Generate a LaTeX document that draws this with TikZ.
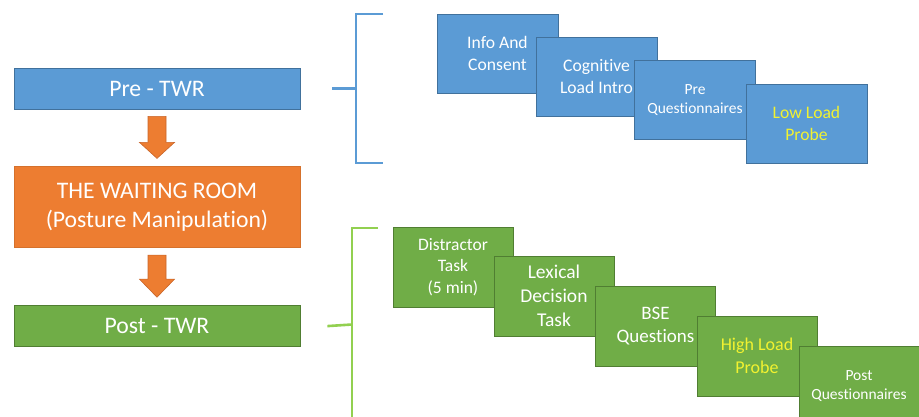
\documentclass[tikz,border=0pt]{standalone}
\usepackage{fontspec}
\setmainfont{Carlito}[Ligatures=NoCommon]
\usetikzlibrary{positioning}
\definecolor{preblue}{HTML}{5B9BD5}
\definecolor{preedge}{HTML}{41719C}
\definecolor{waitorange}{HTML}{ED7D31}
\definecolor{waitedge}{HTML}{C8652A}
\definecolor{postgreen}{HTML}{70AD47}
\definecolor{postedge}{HTML}{507E32}
\definecolor{postline}{HTML}{92D050}
\definecolor{probe}{HTML}{F2F230}

\begin{document}
\begin{tikzpicture}[
  x=1pt, y=1pt,
  box/.style={rectangle, draw, line width=0.8pt, text=white, align=center, inner sep=2pt},
  stage/.style={box, minimum width=286pt, font=\fontsize{23.7}{29}\selectfont},
  prestep/.style={box, fill=preblue, draw=preedge, minimum width=121pt, minimum height=79pt, font=\fontsize{17.6}{22}\selectfont},
  poststep/.style={box, fill=postgreen, draw=postedge, minimum width=120pt, minimum height=80pt, font=\fontsize{19}{23}\selectfont},
  bracket/.style={line width=2.6pt},
  flow/.style={fill=waitorange, draw=waitedge, line width=0.6pt}
]
\useasboundingbox (0,0) rectangle (919,417);
\clip (0,0) rectangle (919,417);

% left column
\node[stage, fill=preblue, draw=preedge, minimum height=41pt] (pre) at (157,328.5) {Pre - TWR};
\node[stage, fill=waitorange, draw=waitorange!90!black, minimum height=81pt, below=57pt of pre] (wait) {THE WAITING ROOM\\(Posture Manipulation)};
\node[stage, fill=postgreen, draw=postedge, minimum height=41pt, below=57pt of wait] (post) {Post - TWR};

\path (pre.south) ++(0,-7) coordinate (flowa);
\path (wait.south) ++(0,-7) coordinate (flowb);
\fill[flow] (flowa) ++(-9,0) -- ++(18,0) -- ++(0,-26) -- ++(8.5,0) -- ++(-17.5,-16) -- ++(-17.5,16) -- ++(8.5,0) -- cycle;
\fill[flow] (flowb) ++(-9,0) -- ++(18,0) -- ++(0,-24) -- ++(8.5,0) -- ++(-17.5,-18) -- ++(-17.5,18) -- ++(8.5,0) -- cycle;

% brackets
\coordinate (pretick) at ([xshift=32pt]pre.east);
\coordinate (posttick) at ([xshift=27pt]post.east);
\draw[bracket, preblue] (383,403) -- (356,403) -- (356,254) -- (383,254);
\draw[bracket, preblue] (pretick) -- (356,328.5);
\draw[bracket, postline] (378,189) -- (352,189) -- (352,-5);
\draw[bracket, postline] (posttick) -- (352,92.5);

% pre steps
\node[prestep] (info) at (497.5,363.5) {Info And\\Consent};
\node[prestep] (cogintro) at (596.5,340.5) {Cognitive\\Load Intro};
\node[prestep, font=\fontsize{15.5}{19}\selectfont] (preq) at (695,317) {Pre\\Questionnaires};
\node[prestep, text=probe] (lowprobe) at (806.5,293.5) {Low Load\\Probe};

% post steps
\node[poststep, font=\fontsize{17.5}{21.5}\selectfont] (distract) at (453,150) {Distractor\\Task\\(5 min)};
\node[poststep, font=\fontsize{19.5}{24}\selectfont] (lexical) at (554,121) {Lexical\\Decision\\Task};
\node[poststep] (bse) at (655.5,91) {BSE\\Questions};
\node[poststep, font=\fontsize{18}{22.5}\selectfont, text=probe] (highprobe) at (757,61) {High Load\\Probe};
\node[poststep, font=\fontsize{15.5}{19}\selectfont] (postq) at (859,31) {Post\\Questionnaires};
\end{tikzpicture}
\end{document}
